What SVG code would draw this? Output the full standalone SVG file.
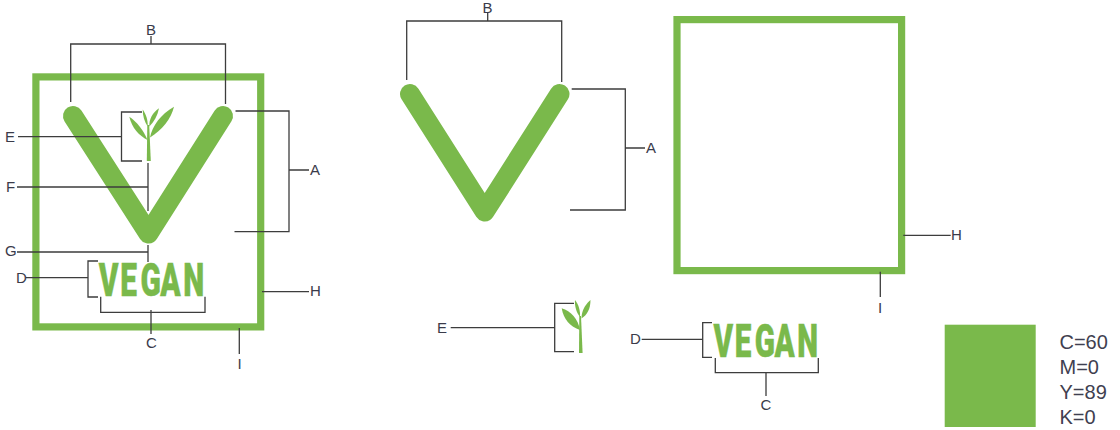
<svg xmlns="http://www.w3.org/2000/svg" width="1120" height="430" viewBox="0 0 1120 430">
<style>
.g{fill:#7ab94b}
.frame{fill:none;stroke:#7ab94b;stroke-width:7.2}
.v{fill:none;stroke:#7ab94b;stroke-width:20;stroke-linecap:round;stroke-linejoin:round}
.logo{font-family:Roboto,"Liberation Sans",sans-serif;font-weight:900;font-size:46px;fill:#7ab94b;stroke:#7ab94b;stroke-width:.5}
.l{fill:none;stroke:#3d3d3d;stroke-width:1.3}
.t{font-family:"Liberation Sans",Arial,sans-serif;font-size:15px;fill:#3a3b4a}
.m{text-anchor:middle}
.c{font-family:"Liberation Sans",Arial,sans-serif;font-size:20px;fill:#3f4050}
</style>
<rect width="1120" height="430" fill="#fff"/>
<g id="logo-assembled">
<rect class="frame" x="35.9" y="76.9" width="224.8" height="250"/>
<path class="v" d="M73 116L148.500 233.500L223 116"/>
<g id="sprout-left">
<path class="g" d="M147.300 125H149.200L150.800 161H146.800Z"/>
<path class="g" d="M142.700 109.500C146 114 148 120 147.700 126.500C144.500 122 142.700 116 142.700 109.500Z"/>
<path class="g" d="M159 108.300C157.500 116 154 122 149.300 126.500C149 119 152.500 113 159 108.300Z"/>
<path class="g" d="M174 106.700C171 119 162 130 150 137.500C152 126 161 114 174 106.700Z"/>
<path class="g" d="M129.300 116.700C137 122 143.500 130 147.500 140C139 135.500 132 128 129.300 116.700Z"/>
</g>
<text class="logo" transform="translate(98.500 296) scale(.65 1)" x="0.300 33.300 64.500 95 130.500" y="0">VEGAN</text>
</g>
<g id="logo-v"><path class="v" d="M410 94L484.700 211.500L559.500 94"/></g>
<g id="logo-frame"><rect class="frame" x="677" y="19.600" width="224.600" height="251"/></g>
<g id="sprout-right">
<path class="g" d="M579.300 316H581L582.600 353H579Z"/>
<path class="g" d="M561.700 308.300C571 311 578 319 580 330C570 327 563.500 319 561.700 308.300Z"/>
<path class="g" d="M590.500 300C587 303 581.500 309 581.500 318.500C587 315 590.500 309 590.500 300Z"/>
<path class="g" d="M575 300C578.500 304 580.500 311 580 317C576.500 313 574.500 306 575 300Z"/>
</g>
<g id="vegan-word"><text class="logo" transform="translate(713.300 356.700) scale(.644 1)" x="0.300 33.300 64.500 95 130.500" y="0">VEGAN</text></g>
<g id="swatch"><rect class="g" x="944.700" y="324.700" width="91" height="102.300"/></g>
<g id="connectors">
<path class="l" d="M70.700 102V44H225.500V104M151 36V44"/>
<path class="l" d="M235.500 111H289V231.700H234.500M289 170H309"/>
<path class="l" d="M18 136.700H121.500M142 112H121.500V161H142"/>
<path class="l" d="M17 187H148M148 163V211"/>
<path class="l" d="M17 252H148M148 245V262"/>
<path class="l" d="M26 277.700H88M98 261H88V297H98"/>
<path class="l" d="M100.700 296.700V312.300H205V296.700M151 310V334"/>
<path class="l" d="M262 291.700H309"/>
<path class="l" d="M239.300 328V354"/>
<path class="l" d="M406.700 80V21H561.700V82M487.700 13V21"/>
<path class="l" d="M571.700 89H625.300V210H570M625.300 148H645"/>
<path class="l" d="M903.300 235.300H950.700"/>
<path class="l" d="M880.300 271.700V297"/>
<path class="l" d="M450.700 327.700H554.700M574 303.300H554.700V351.700H574"/>
<path class="l" d="M641.700 339.300H702.700M712 322.700H702.700V357.300H712"/>
<path class="l" d="M715.300 358V372.700H818.300V358M766 372.700V396"/>
</g>
<g id="labels">
<text class="t m" x="151" y="35">B</text>
<text class="t" x="310" y="175">A</text>
<text class="t" x="5" y="142">E</text>
<text class="t" x="6" y="192">F</text>
<text class="t" x="5" y="256">G</text>
<text class="t" x="16" y="283">D</text>
<text class="t m" x="151.500" y="348">C</text>
<text class="t" x="310" y="296">H</text>
<text class="t m" x="239.500" y="369">I</text>
<text class="t m" x="487.500" y="13">B</text>
<text class="t" x="646" y="152.700">A</text>
<text class="t" x="951" y="240">H</text>
<text class="t m" x="880" y="312.700">I</text>
<text class="t" x="437" y="333">E</text>
<text class="t" x="630" y="344">D</text>
<text class="t m" x="766" y="410">C</text>
<text class="c" x="1059.500" y="349">C=60</text>
<text class="c" x="1059.500" y="374">M=0</text>
<text class="c" x="1059.500" y="399">Y=89</text>
<text class="c" x="1059.500" y="424">K=0</text>
</g>
</svg>
